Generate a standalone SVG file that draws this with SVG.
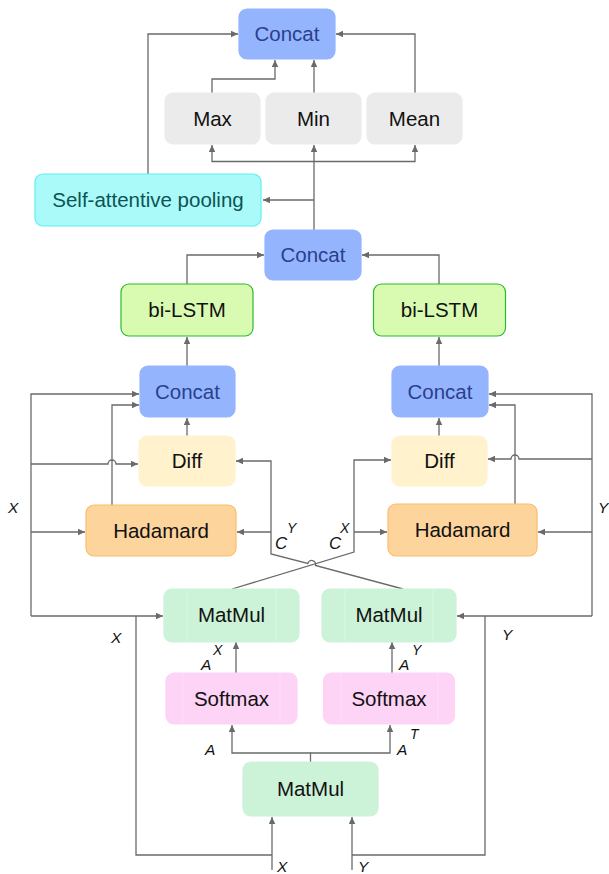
<svg xmlns="http://www.w3.org/2000/svg" width="609" height="874" viewBox="0 0 609 874">
  <style>
    .box { stroke-width: 1.2; }
    .concat { fill: #94b5fd; stroke: #94b5fd; }
    .pool { fill: #ebebeb; stroke: #ebebeb; }
    .attn { fill: #aafafa; stroke: #62eeee; }
    .lstm { fill: #d9fbb1; stroke: #2cba2c; }
    .diff { fill: #fff2cd; stroke: #fff2cd; }
    .hada { fill: #fed49d; stroke: #f9bd6a; }
    .mm { fill: #ccf2d8; stroke: #ccf2d8; }
    .soft { fill: #fdd3f6; stroke: #fdd3f6; }
    .stripe { stroke: #ffffff; stroke-opacity: 0.3; stroke-width: 1; fill: none; }
    .lbl { font-family: "Liberation Sans", Arial, sans-serif; font-size: 20.5px; fill: #111111; text-anchor: middle; }
    .lbl-c { fill: #2a3f8e; }
    .lbl-a { fill: #0d5454; }
    .var { font-family: "Liberation Sans", Arial, sans-serif; font-style: italic; font-size: 15.5px; fill: #111111; }
    .sup { font-size: 14px; }
    .big { font-size: 17px; }
    .wire { fill: none; stroke: #6a6a6a; stroke-width: 1.3; }
    .arr { marker-end: url(#head); }
  </style>
  <defs>
    <marker id="head" markerUnits="userSpaceOnUse" markerWidth="8" markerHeight="7" refX="7" refY="3.25" orient="auto">
      <path d="M0,0 L7,3.25 L0,6.5 z" fill="#6a6a6a"/>
    </marker>
  </defs>

  <!-- connectors -->
  <g id="connectors">
    <!-- pooling stage into the final concat -->
    <path class="wire arr" d="M148,174 V34 H238"/>
    <path class="wire arr" d="M212,93 V79 H275 V60"/>
    <path class="wire arr" d="M314,93 V60"/>
    <path class="wire arr" d="M415,93 V34 H336"/>
    <path class="wire arr" d="M314,230 V145"/>
    <path class="wire arr" d="M314,161.5 H212 V145"/>
    <path class="wire arr" d="M314,161.5 H415 V145"/>
    <path class="wire arr" d="M314,200 H263"/>

    <!-- bi-LSTMs into the middle concat -->
    <path class="wire arr" d="M187,284 V255 H264"/>
    <path class="wire arr" d="M439,284 V255 H362"/>
    <path class="wire arr" d="M187,366 V337"/>
    <path class="wire arr" d="M439,366 V337"/>
    <path class="wire arr" d="M187,436 V418"/>
    <path class="wire arr" d="M439,436 V418"/>

    <!-- X side feeds -->
    <path class="wire arr" d="M31,616 V394 H139"/>
    <path class="wire arr" d="M31,464 H108 A4,4 0 0 1 116,464 H138"/>
    <path class="wire arr" d="M31,532 H85"/>
    <path class="wire arr" d="M31,616 H163"/>
    <path class="wire arr" d="M112,505 V405 H139"/>

    <!-- Y side feeds -->
    <path class="wire arr" d="M592,616 V394 H489"/>
    <path class="wire arr" d="M592,459 H519 A4,4 0 0 0 511,459 H488"/>
    <path class="wire arr" d="M592,532 H538"/>
    <path class="wire arr" d="M592,616 H457"/>
    <path class="wire arr" d="M515,504 V405 H489"/>

    <!-- crossed attention outputs C^Y and C^X -->
    <path class="wire arr" d="M403,589 L315.5,565.5 A4,4 0 0 0 307.7,563.5 L271,554 V461 H236"/>
    <path class="wire arr" d="M271,532 H237"/>
    <path class="wire arr" d="M232,589 L354,552 V460 H391"/>
    <path class="wire arr" d="M354,532 H387"/>

    <!-- softmax into matmuls -->
    <path class="wire arr" d="M236,673 V642"/>
    <path class="wire arr" d="M392,673 V642"/>
    <path class="wire arr" d="M310.5,762 V753 H232 V725"/>
    <path class="wire arr" d="M310.5,753 H390 V725"/>

    <!-- inputs -->
    <path class="wire arr" d="M272,870 V817"/>
    <path class="wire" d="M272,855 H136 V616"/>
    <path class="wire arr" d="M352,870 V817"/>
    <path class="wire" d="M352,855 H485 V616"/>
  </g>

  <!-- nodes -->
  <g id="concat-out">
    <rect class="box concat" x="239" y="9" width="96" height="50" rx="8"/>
    <text class="lbl lbl-c" x="287" y="41">Concat</text>
  </g>
  <g id="max">
    <rect class="box pool" x="165" y="93" width="95" height="51" rx="8"/>
    <text class="lbl" x="212.5" y="126">Max</text>
  </g>
  <g id="min">
    <rect class="box pool" x="266" y="93" width="95" height="51" rx="8"/>
    <text class="lbl" x="313.5" y="126">Min</text>
  </g>
  <g id="mean">
    <rect class="box pool" x="367" y="93" width="95" height="51" rx="8"/>
    <text class="lbl" x="414.5" y="126">Mean</text>
  </g>
  <g id="self-attentive-pooling">
    <rect class="box attn" x="35" y="174" width="226" height="52" rx="8"/>
    <text class="lbl lbl-a" x="148" y="207">Self-attentive pooling</text>
  </g>
  <g id="concat-mid">
    <rect class="box concat" x="265" y="230" width="96" height="50" rx="8"/>
    <text class="lbl lbl-c" x="313" y="262">Concat</text>
  </g>
  <g id="bilstm-left">
    <rect class="box lstm" x="121" y="284" width="132" height="52" rx="8"/>
    <text class="lbl" x="187" y="317">bi-LSTM</text>
  </g>
  <g id="bilstm-right">
    <rect class="box lstm" x="373.5" y="284" width="132" height="52" rx="8"/>
    <text class="lbl" x="439.5" y="317">bi-LSTM</text>
  </g>
  <g id="concat-left">
    <rect class="box concat" x="140" y="366" width="95" height="51" rx="8"/>
    <text class="lbl lbl-c" x="187.5" y="399">Concat</text>
  </g>
  <g id="concat-right">
    <rect class="box concat" x="392" y="366" width="96" height="51" rx="8"/>
    <text class="lbl lbl-c" x="440" y="399">Concat</text>
  </g>
  <g id="diff-left">
    <rect class="box diff" x="139" y="436" width="96" height="50" rx="8"/>
    <text class="lbl" x="187" y="468">Diff</text>
  </g>
  <g id="diff-right">
    <rect class="box diff" x="392" y="436" width="95" height="50" rx="8"/>
    <text class="lbl" x="439.5" y="468">Diff</text>
  </g>
  <g id="hadamard-left">
    <rect class="box hada" x="86" y="505" width="150" height="51" rx="8"/>
    <text class="lbl" x="161" y="538">Hadamard</text>
  </g>
  <g id="hadamard-right">
    <rect class="box hada" x="388" y="504" width="149" height="52" rx="8"/>
    <text class="lbl" x="462.5" y="537">Hadamard</text>
  </g>
  <g id="matmul-left">
    <rect class="box mm" x="164" y="589" width="135" height="53" rx="8"/>
    <path class="stripe" d="M187,590 V641 M276,590 V641"/>
    <text class="lbl" x="231.5" y="622">MatMul</text>
  </g>
  <g id="matmul-right">
    <rect class="box mm" x="322" y="589" width="134" height="53" rx="8"/>
    <path class="stripe" d="M345,590 V641 M433,590 V641"/>
    <text class="lbl" x="389" y="622">MatMul</text>
  </g>
  <g id="softmax-left">
    <rect class="box soft" x="166" y="673" width="131" height="51" rx="8"/>
    <path class="stripe" d="M183,674 V723 M280,674 V723"/>
    <text class="lbl" x="231.5" y="706">Softmax</text>
  </g>
  <g id="softmax-right">
    <rect class="box soft" x="323.5" y="673" width="131" height="51" rx="8"/>
    <path class="stripe" d="M341,674 V723 M438,674 V723"/>
    <text class="lbl" x="389" y="706">Softmax</text>
  </g>
  <g id="matmul-bottom">
    <rect class="box mm" x="243" y="762" width="135" height="54" rx="8"/>
    <text class="lbl" x="310.5" y="796">MatMul</text>
  </g>

  <!-- variable labels -->
  <g id="labels">
    <text class="var" x="8" y="513">X</text>
    <text class="var" x="598" y="513">Y</text>
    <text class="var" x="111" y="643">X</text>
    <text class="var" x="502" y="640">Y</text>
    <text class="var big" x="275" y="549">C</text>
    <text class="var sup" x="287" y="533">Y</text>
    <text class="var big" x="329" y="549">C</text>
    <text class="var sup" x="340" y="533">X</text>
    <text class="var" x="201" y="670">A</text>
    <text class="var sup" x="213" y="655">X</text>
    <text class="var" x="399" y="670">A</text>
    <text class="var sup" x="412" y="655">Y</text>
    <text class="var" x="205" y="755">A</text>
    <text class="var" x="397" y="755">A</text>
    <text class="var sup" x="410" y="739">T</text>
    <text class="var" x="277" y="872">X</text>
    <text class="var" x="358" y="872">Y</text>
  </g>
</svg>
